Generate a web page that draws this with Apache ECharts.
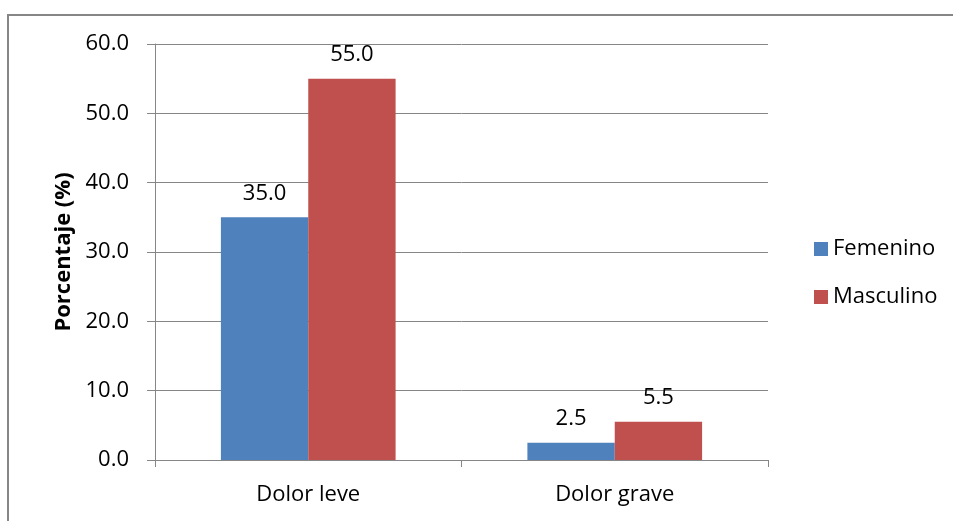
<!DOCTYPE html>
<html>
<head>
<meta charset="utf-8">
<script src="https://cdn.jsdelivr.net/npm/echarts@6/dist/echarts.min.js"></script>
<style>
  html, body { margin: 0; padding: 0; background: #fff; }
  #chart { width: 953px; height: 521px; }
</style>
</head>
<body>
<div id="chart"></div>
<script>
  // datos
  const categorias = ['Dolor leve', 'Dolor grave']
  const femenino = [35.0, 2.5]
  const masculino = [55.0, 5.5]
  const seriesNames = ['Femenino', 'Masculino']

  const fuente = "'Open Sans', 'Noto Sans', sans-serif"
  const gris = '#868686'

  let chart = echarts.init(document.getElementById('chart'))
  chart.setOption({
    animation: false,
    textStyle: { fontFamily: fuente },
    // marco del área del gráfico (solo borde superior e izquierdo visibles)
    graphic: [{
      type: 'polyline',
      shape: { points: [[8, 600], [8, 15], [1200, 15]] },
      style: { fill: null, stroke: gris, lineWidth: 2 },
      silent: true
    }],
    grid: {
      left: 155,
      right: 185,
      top: 44,
      bottom: 61
    },
    legend: {
      data: seriesNames,
      orient: 'vertical',
      left: 809,
      top: 233,
      itemWidth: 14,
      itemHeight: 14,
      itemGap: 26,
      icon: 'rect',
      selectedMode: false,
      textStyle: { fontSize: 22, color: '#000', fontFamily: fuente }
    },
    xAxis: {
      type: 'category',
      data: categorias,
      axisLine: { lineStyle: { color: gris, width: 1 } },
      axisTick: { show: true, length: 7, alignWithLabel: false, lineStyle: { color: gris } },
      axisLabel: { fontSize: 22, color: '#000', margin: 24, fontFamily: fuente }
    },
    yAxis: {
      type: 'value',
      min: 0,
      max: 60,
      interval: 10,
      name: 'Porcentaje (%)',
      nameLocation: 'middle',
      nameGap: 80,
      nameTextStyle: { fontSize: 22, fontWeight: 'bold', color: '#000', fontFamily: fuente },
      axisLine: { show: true, lineStyle: { color: gris, width: 1 } },
      axisTick: { show: true, length: 8, inside: false, lineStyle: { color: gris } },
      axisLabel: {
        fontSize: 22,
        color: '#000',
        margin: 26,
        fontFamily: fuente,
        formatter: v => v.toFixed(1)
      },
      splitLine: { show: true, lineStyle: { color: gris, width: 1 } }
    },
    series: [
      {
        name: seriesNames[0],
        type: 'bar',
        data: femenino,
        barGap: '0%',
        barCategoryGap: '43%',
        itemStyle: { color: '#4F81BD' },
        label: {
          show: true,
          position: 'top',
          distance: 13,
          fontSize: 22,
          color: '#000',
          fontFamily: fuente,
          formatter: p => p.value.toFixed(1)
        }
      },
      {
        name: seriesNames[1],
        type: 'bar',
        data: masculino,
        barGap: '0%',
        barCategoryGap: '43%',
        itemStyle: { color: '#C0504D' },
        label: {
          show: true,
          position: 'top',
          distance: 13,
          fontSize: 22,
          color: '#000',
          fontFamily: fuente,
          formatter: p => p.value.toFixed(1)
        }
      }
    ]
  })
</script>
</body>
</html>
